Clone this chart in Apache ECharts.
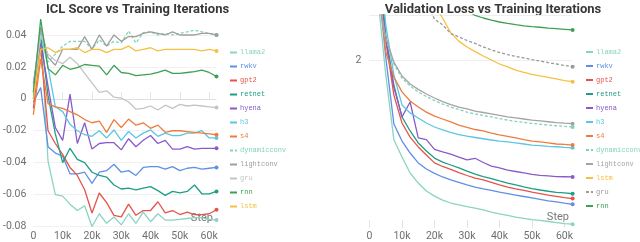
<!DOCTYPE html>
<html><head><meta charset="utf-8">
<script src="https://cdn.jsdelivr.net/npm/echarts@6/dist/echarts.min.js"></script>
<style>html,body{margin:0;padding:0;background:#fff;overflow:hidden}#c{width:640px;height:242px}</style>
</head><body><div id="c"></div>
<script>
// ---------- shared ----------
const steps = [0,2500,5000,7500,10000,12500,15000,17500,20000,22500,25000,27500,30000,32500,35000,37500,40000,42500,45000,47500,50000,52500,55000,57500,60000,62500];
const xTicks = [0,10000,20000,30000,40000,50000,60000];
const iclTicks = [-0.08,-0.06,-0.04,-0.02,0,0.02,0.04];
const lossTicks = [2];

// ---------- ICL score (left) ----------
const iclLlama2 = [0.002,0.043,-0.039,-0.060,-0.061,-0.066,-0.070,-0.067,-0.080,-0.072,-0.078,-0.074,-0.079,-0.072,-0.078,-0.071,-0.077,-0.072,-0.076,-0.076,-0.0755,-0.075,-0.0745,-0.0745,-0.0755,-0.076];
const iclRwkv = [-0.002,0.007,-0.030,-0.034,-0.036,-0.047,-0.047,-0.046,-0.053,-0.046,-0.045,-0.041,-0.046,-0.045,-0.048,-0.043,-0.0425,-0.0425,-0.044,-0.0425,-0.045,-0.0435,-0.043,-0.044,-0.0435,-0.043];
const iclGpt2 = [-0.006,0.032,-0.020,-0.028,-0.035,-0.043,-0.048,-0.057,-0.0715,-0.059,-0.065,-0.073,-0.074,-0.066,-0.073,-0.070,-0.070,-0.0645,-0.0715,-0.070,-0.0725,-0.071,-0.0725,-0.0725,-0.072,-0.0695];
const iclRetnet = [0.000,0.040,0.002,-0.022,-0.040,-0.031,-0.038,-0.040,-0.046,-0.048,-0.049,-0.054,-0.0565,-0.056,-0.057,-0.056,-0.055,-0.0575,-0.0605,-0.058,-0.059,-0.058,-0.054,-0.0595,-0.0595,-0.058];
const iclHyena = [0.010,0.035,0.008,-0.018,-0.026,0.003,-0.028,-0.015,-0.0315,-0.028,-0.0275,-0.0275,-0.032,-0.025,-0.030,-0.026,-0.023,-0.028,-0.026,-0.0315,-0.0315,-0.030,-0.0315,-0.031,-0.031,-0.031];
const iclH3 = [0.004,0.042,0.020,-0.005,-0.008,-0.016,-0.020,-0.0225,-0.0235,-0.020,-0.0245,-0.0195,-0.026,-0.0205,-0.0245,-0.0215,-0.0195,-0.0235,-0.0215,-0.023,-0.023,-0.0215,-0.0215,-0.020,-0.0245,-0.0245];
const iclS4 = [-0.010,0.025,-0.003,-0.005,-0.006,-0.008,-0.010,-0.013,-0.015,-0.014,-0.021,-0.013,-0.018,-0.0127,-0.0165,-0.015,-0.0185,-0.0165,-0.021,-0.020,-0.020,-0.0205,-0.021,-0.0215,-0.022,-0.0225];
const iclDynamicconv = [0.010,0.040,0.023,0.028,0.033,0.036,0.036,0.036,0.031,0.037,0.033,0.036,0.035,0.0425,0.035,0.0415,0.042,0.040,0.041,0.040,0.041,0.042,0.043,0.042,0.041,0.040];
const iclLightconv = [0.008,0.045,0.026,0.021,0.031,0.031,0.031,0.039,0.031,0.040,0.033,0.040,0.036,0.039,0.039,0.041,0.042,0.041,0.040,0.042,0.040,0.040,0.040,0.041,0.041,0.040];
const iclGru = [0.005,0.040,0.028,0.024,0.022,0.026,0.022,0.016,0.010,0.004,0.005,0.001,0.0005,-0.002,-0.0065,-0.006,-0.0045,-0.007,-0.004,-0.006,-0.0035,-0.0045,-0.004,-0.0045,-0.005,-0.0055];
const iclRnn = [0.004,0.050,0.019,0.015,0.021,0.0185,0.0195,0.0215,0.021,0.0205,0.015,0.021,0.0165,0.016,0.0145,0.015,0.0155,0.0165,0.018,0.016,0.016,0.0165,0.017,0.018,0.0165,0.014];
const iclLstm = [0.000,0.031,0.032,0.029,0.031,0.031,0.032,0.029,0.031,0.031,0.029,0.031,0.031,0.033,0.030,0.031,0.032,0.030,0.031,0.031,0.031,0.031,0.031,0.030,0.031,0.030];

// ---------- Validation loss (right) ----------
const lossLlama2 = [4.0,2.31,1.93,1.62,1.538,1.462,1.414,1.376,1.352,1.333,1.319,1.31,1.302,1.295,1.286,1.276,1.267,1.26,1.252,1.246,1.24,1.236,1.231,1.226,1.221,1.218];
const lossRwkv = [4.0,2.40,2.014,1.695,1.614,1.557,1.51,1.481,1.46,1.443,1.429,1.417,1.405,1.395,1.386,1.379,1.371,1.364,1.357,1.35,1.343,1.336,1.329,1.324,1.318,1.313];
const lossGpt2 = [4.0,2.5,2.095,1.833,1.70,1.633,1.586,1.548,1.51,1.493,1.479,1.464,1.45,1.438,1.429,1.417,1.405,1.395,1.386,1.379,1.371,1.364,1.357,1.351,1.345,1.34];
const lossRetnet = [4.0,2.55,2.12,1.88,1.729,1.662,1.605,1.567,1.533,1.514,1.5,1.486,1.471,1.457,1.445,1.435,1.424,1.414,1.405,1.396,1.388,1.381,1.375,1.37,1.367,1.363];
const lossHyena = [4.0,2.5,2.1,1.87,1.729,1.80,1.629,1.621,1.574,1.562,1.552,1.538,1.524,1.532,1.512,1.495,1.486,1.476,1.469,1.462,1.455,1.451,1.448,1.445,1.444,1.443];
const lossH3 = [4.0,2.6,2.167,1.929,1.786,1.748,1.724,1.70,1.681,1.667,1.655,1.645,1.637,1.631,1.625,1.619,1.614,1.61,1.605,1.60,1.595,1.592,1.589,1.587,1.584,1.582];
const lossS4 = [4.0,2.4,2.038,1.919,1.848,1.805,1.776,1.752,1.733,1.719,1.705,1.69,1.679,1.669,1.662,1.652,1.643,1.636,1.629,1.621,1.614,1.61,1.605,1.60,1.598,1.595];
const lossDynamicconv = [4.0,2.30,2.10,1.98,1.914,1.876,1.848,1.826,1.807,1.79,1.776,1.764,1.752,1.743,1.736,1.729,1.721,1.714,1.708,1.703,1.698,1.694,1.69,1.687,1.684,1.681];
const lossLightconv = [4.0,2.31,2.11,1.99,1.924,1.886,1.86,1.838,1.819,1.802,1.788,1.776,1.767,1.757,1.75,1.743,1.736,1.729,1.724,1.719,1.714,1.71,1.706,1.702,1.699,1.697];
const lossLstm = [6.0,4.0,3.4,3.0,2.75,2.55,2.42,2.33,2.262,2.20,2.129,2.09,2.062,2.04,2.019,2.0,1.981,1.967,1.952,1.941,1.932,1.924,1.917,1.91,1.902,1.897];
const lossGru = [6.0,3.6,3.0,2.7,2.55,2.42,2.34,2.28,2.195,2.167,2.126,2.11,2.093,2.079,2.062,2.048,2.036,2.026,2.017,2.01,2.002,1.995,1.988,1.981,1.974,1.968];
const lossRnn = [7.0,4.5,3.8,3.3,3.0,2.8,2.65,2.54,2.45,2.38,2.32,2.27,2.235,2.212,2.2,2.19,2.181,2.174,2.168,2.163,2.159,2.156,2.152,2.149,2.146,2.143];

// ---------- series definitions (name, values, color, dashed) ----------
const iclSeries = [
  ['llama2', iclLlama2, '#8ad4c1', false],
  ['rwkv', iclRwkv, '#5f8fe6', false],
  ['gpt2', iclGpt2, '#e5534b', false],
  ['retnet', iclRetnet, '#1f9e86', false],
  ['hyena', iclHyena, '#8a5ac8', false],
  ['h3', iclH3, '#5cc6e2', false],
  ['s4', iclS4, '#ee7c3e', false],
  ['dynamicconv', iclDynamicconv, '#83d3bc', true],
  ['lightconv', iclLightconv, '#9e9e9e', false],
  ['gru', iclGru, '#c4c4c4', false],
  ['rnn', iclRnn, '#3f9f55', false],
  ['lstm', iclLstm, '#f5c042', false]
];
const lossSeries = [
  ['llama2', lossLlama2, '#8ad4c1', false],
  ['rwkv', lossRwkv, '#5f8fe6', false],
  ['gpt2', lossGpt2, '#e5534b', false],
  ['retnet', lossRetnet, '#1f9e86', false],
  ['hyena', lossHyena, '#8a5ac8', false],
  ['h3', lossH3, '#5cc6e2', false],
  ['s4', lossS4, '#ee7c3e', false],
  ['dynamicconv', lossDynamicconv, '#83d3bc', true],
  ['lightconv', lossLightconv, '#a4a4a4', false],
  ['lstm', lossLstm, '#f5c042', false],
  ['gru', lossGru, '#9a9a9a', true],
  ['rnn', lossRnn, '#3f9f55', false]
];

const SUFFIX = '\u0000val';
const labelFont = "Roboto, sans-serif";
const monoFont = "'Liberation Mono', 'DejaVu Sans Mono', monospace";

function mkSeries(def, axisIdx, suffix) {
  const [name, vals, color, dashed] = def;
  const last = vals.length - 1;
  return {
    type: 'line', name: name + suffix,
    xAxisIndex: axisIdx, yAxisIndex: axisIdx,
    symbol: 'none', showSymbol: true, silent: true, animation: false,
    clip: true,
    lineStyle: { color, width: 1.3, type: dashed ? [3, 2] : 'solid' },
    itemStyle: { color },
    data: vals.map((v, i) => i === last
      ? { value: [steps[i], v], symbol: 'circle', symbolSize: 4 }
      : [steps[i], v])
  };
}
function mkLegend(defs, suffix, left, top) {
  return {
    orient: 'vertical', left, top, padding: 0, itemGap: 6, itemWidth: 7, itemHeight: 8,
    selectedMode: false,
    itemStyle: { color: 'rgba(0,0,0,0)', borderWidth: 0 },
    lineStyle: { width: 2 },
    formatter: n => n.replace(SUFFIX, ''),
    textStyle: { fontFamily: monoFont, fontSize: 7, lineHeight: 8, padding: [0, 0, 0, -2] },
    data: defs.map(d => ({ name: d[0] + suffix, textStyle: { color: d[2] } }))
  };
}
const kFmt = v => (v % 10000 !== 0) ? '' : (v === 0 ? '0' : (v / 1000) + 'k');

const option = {
  backgroundColor: '#fff',
  animation: false,
  grid: [
    { left: 29.3, top: 3.06, width: 187.2, height: 223.44 },
    { left: 369.5, top: 15, width: 203.1, height: 213 }
  ],
  xAxis: [
    { type: 'value', gridIndex: 0, min: 0, max: 62500, interval: 10000,
      axisLine: { show: false },
      axisTick: { show: true, inside: true, length: 7, customValues: xTicks, lineStyle: { color: '#e4e4e4' } },
      axisLabel: { customValues: xTicks, formatter: kFmt, color: '#6f6f6f', fontFamily: labelFont, fontSize: 10.5, margin: 4 },
      splitLine: { show: false } },
    { type: 'value', gridIndex: 1, min: 0, max: 62500, interval: 10000,
      axisLine: { show: false },
      axisTick: { show: true, inside: true, length: 8, customValues: xTicks, lineStyle: { color: '#e4e4e4' } },
      axisLabel: { customValues: xTicks, formatter: kFmt, color: '#6f6f6f', fontFamily: labelFont, fontSize: 10.5, margin: 3 },
      splitLine: { show: false } }
  ],
  yAxis: [
    { type: 'value', gridIndex: 0, min: -0.08, max: 0.06, interval: 0.02,
      axisLine: { show: false }, axisTick: { show: false },
      axisLabel: { customValues: iclTicks, color: '#6f6f6f', fontFamily: labelFont, fontSize: 10.5, margin: 7,
        formatter: v => { if (v > 0.05) return ''; const r = Math.round(v * 100) / 100; return r === 0 ? '0' : String(r); } },
      splitLine: { show: true, lineStyle: { width: 1, color: ['#f1f1f1','#f1f1f1','#f1f1f1','#f1f1f1','#dedede','#f1f1f1','#f1f1f1','rgba(0,0,0,0)'] } } },
    { type: 'value', gridIndex: 1, min: 1.2, max: 2.2143, interval: 0.4,
      axisLine: { show: false }, axisTick: { show: false },
      axisLabel: { customValues: lossTicks, color: '#6f6f6f', fontFamily: labelFont, fontSize: 10.5, margin: 8,
        formatter: v => Math.abs(v - 2) < 1e-6 ? '2' : '' },
      splitLine: { show: true, lineStyle: { width: 1, color: ['rgba(0,0,0,0)','rgba(0,0,0,0)','#eeeeee','#eeeeee'] } } }
  ],
  legend: [
    mkLegend(iclSeries, '', 229, 48.5),
    mkLegend(lossSeries, SUFFIX, 585, 48)
  ],
  graphic: [
    { type: 'text', x: 137.5, y: 10, silent: true,
      style: { text: 'ICL Score vs Training Iterations', fill: '#383838', font: "bold 13px " + labelFont, align: 'center', verticalAlign: 'middle' } },
    { type: 'text', x: 493, y: 10, silent: true,
      style: { text: 'Validation Loss vs Training Iterations', fill: '#383838', font: "bold 13px " + labelFont, align: 'center', verticalAlign: 'middle' } },
    { type: 'text', x: 213, y: 218, silent: true,
      style: { text: 'Step', fill: '#777', font: "11px " + labelFont, align: 'right', verticalAlign: 'middle' } },
    { type: 'text', x: 569, y: 217, silent: true,
      style: { text: 'Step', fill: '#777', font: "11px " + labelFont, align: 'right', verticalAlign: 'middle' } }
  ],
  series: [
    ...iclSeries.map(d => mkSeries(d, 0, '')),
    ...lossSeries.map(d => mkSeries(d, 1, SUFFIX))
  ]
};
const chart = echarts.init(document.getElementById('c'), null, { renderer: 'canvas' });
chart.setOption(option);
</script>
</body></html>
